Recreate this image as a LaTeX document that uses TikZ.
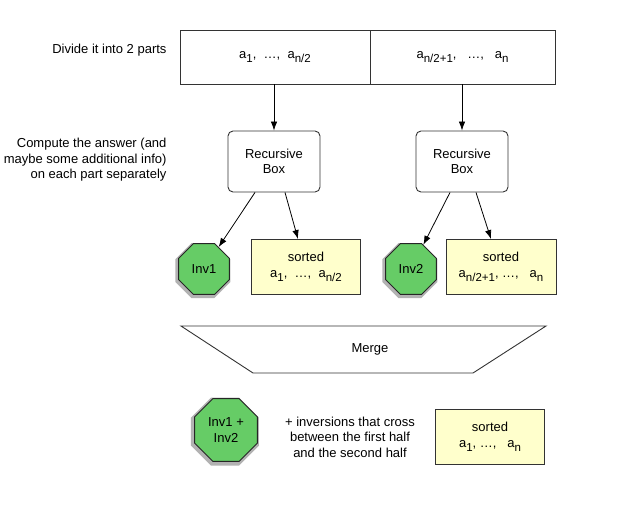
\documentclass[tikz,border=0pt]{standalone}
\usepackage{fontspec}
\setmainfont{Liberation Sans}
\usepackage{tikz}
\usetikzlibrary{arrows.meta,shapes.geometric,shadows}
\definecolor{invgreen}{RGB}{102,204,102}
\definecolor{sortyellow}{RGB}{255,255,204}
\newcommand{\subidx}[1]{\raisebox{-4pt}{\fontsize{11.5}{11.5}\selectfont#1}}

\begin{document}
\begin{tikzpicture}[x=1pt,y=-1pt,font=\fontsize{13}{15.5}\selectfont,
  part/.style={draw=black!80,line width=0.9pt,minimum height=54pt},
  recbox/.style={draw=black!80,line width=0.9pt,rounded corners=5pt,align=center,minimum width=92pt,minimum height=61pt},
  invoct/.style={regular polygon,regular polygon sides=8,draw=black!85,line width=0.9pt,fill=invgreen,align=center,inner sep=0pt,
    drop shadow={shadow xshift=-1pt,shadow yshift=-1.5pt,shadow scale=1.08,fill=black!60,opacity=.5}},
  sortbox/.style={draw=black!80,line width=0.9pt,fill=sortyellow,align=center,minimum height=55pt},
  arr/.style={-{Latex[length=9pt,width=6.5pt]},line width=0.8pt}]
  \useasboundingbox (0,0) rectangle (631,506);
  % divide
  \node[part,minimum width=190pt] (left) at (275,57) {a\subidx{1},\ \ \ldots,\ \ a\subidx{n/2}};
  \node[part,minimum width=185pt] (right) at (462.5,57) {a\subidx{n/2+1},\ \ \ \ldots,\ \ \ a\subidx{n}};
  \node[anchor=east] (divtxt) at (170,50) {Divide it into 2 parts};
  % recurse
  \node[recbox] (rb1) at (274,161.5) {Recursive\\Box};
  \node[recbox] (rb2) at (462,161.5) {Recursive\\Box};
  \node[anchor=east,align=right] (comptxt) at (170,160) {Compute the answer (and\\maybe some additional info)\\on each part separately};
  \draw[arr] (rb1|-left.south) -- (rb1.north);
  \draw[arr] (rb2|-right.south) -- (rb2.north);
  % results
  \node[invoct,minimum size=55pt] (inv1) at (204,269) {Inv1};
  \node[sortbox,minimum width=109pt] (sb1) at (306,267) {sorted\\a\subidx{1},\ \ \ldots,\ \ a\subidx{n/2}};
  \node[invoct,minimum size=55pt] (inv2) at (411,269) {Inv2};
  \node[sortbox,minimum width=110pt] (sb2) at (501,267) {sorted\\a\subidx{n/2+1},\ \ldots,\ \ \ a\subidx{n}};
  \draw[arr] ([xshift=-19pt]rb1.south) -- (inv1);
  \draw[arr] ([xshift=11pt]rb1.south) -- ([xshift=-8pt]sb1.north);
  \draw[arr] ([xshift=-12pt]rb2.south) -- (inv2);
  \draw[arr] ([xshift=14pt]rb2.south) -- ([xshift=-10pt]sb2.north);
  % merge
  \draw[draw=black!80,line width=0.9pt] (181,326) -- (546,326) -- (473,373) -- (253,373) -- cycle;
  \node (merge) at (370,349) {Merge};
  % final
  \node[invoct,minimum size=68pt] (inv12) at (226,430) {Inv1 +\\Inv2};
  \node[align=center] (crosstxt) at (350,437) {+ inversions that cross\\between the first half\\and the second half};
  \node[sortbox,minimum width=109pt] (sball) at (490,437) {sorted\\a\subidx{1},\ \ldots,\ \ \ a\subidx{n}};
\end{tikzpicture}
\end{document}
